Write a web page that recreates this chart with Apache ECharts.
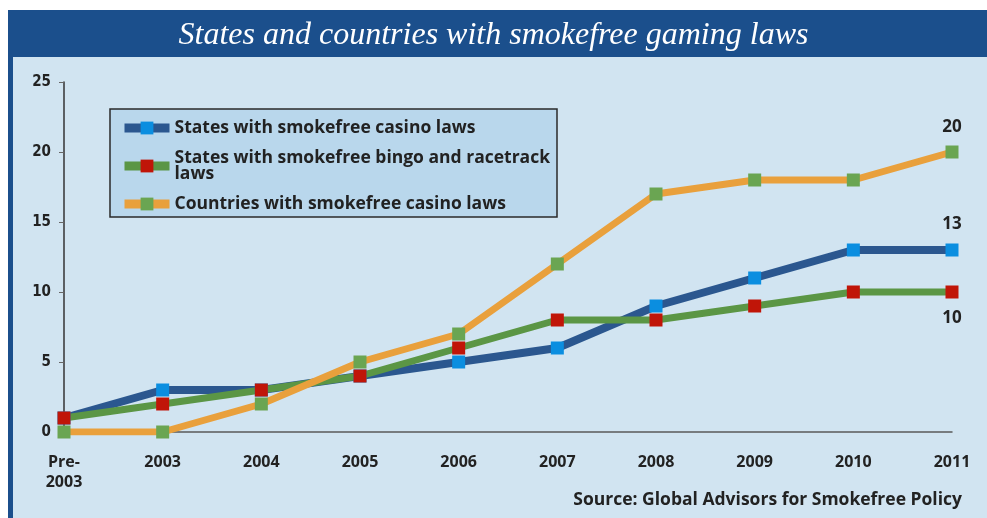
<!DOCTYPE html>
<html>
<head>
    <meta charset="UTF-8">
    <title>States and countries with smokefree gaming laws</title>
    <script type="text/javascript" src="https://cdn.jsdelivr.net/npm/echarts@6/dist/echarts.min.js"></script>
    <style type="text/css">
        html, body { margin: 0; padding: 0; background: #ffffff; }
        #chart { width: 987px; height: 518px; }
    </style>
</head>
<body>
<div id="chart"></div>
<script type="text/javascript">
    // 数据
    var years = ['Pre-\n2003', '2003', '2004', '2005', '2006', '2007', '2008', '2009', '2010', '2011'];
    var casinoStates = [1, 3, 3, 4, 5, 6, 9, 11, 13, 13];
    var bingoStates = [1, 2, 3, 4, 6, 8, 8, 9, 10, 10];
    var casinoCountries = [0, 0, 2, 5, 7, 12, 17, 18, 18, 20];
    var seriesNames = [
        'States with smokefree casino laws',
        'States with smokefree bingo and racetrack\nlaws',
        'Countries with smokefree casino laws'
    ];
    var yTicks = [0, 5, 10, 15, 20, 25];

    var boldFont = '"Open Sans", Lato, "DejaVu Sans", sans-serif';

    // 最后一个点加数值标签
    function withLastLabel(values, position, offset) {
        return values.map(function(v, i) {
            if (i !== values.length - 1) return v;
            return {
                value: v,
                label: {
                    show: true, position: position, distance: offset,
                    fontFamily: boldFont, fontWeight: 'bold', fontSize: 17, color: '#222'
                }
            };
        });
    }

    function lineSeries(name, data, lineColor, markerColor, width) {
        return {
            name: name,
            type: 'line',
            data: data,
            symbol: 'rect',
            symbolSize: 13,
            lineStyle: {color: lineColor, width: width},
            itemStyle: {color: markerColor},
            emphasis: {disabled: true}
        };
    }

    var chart = echarts.init(document.getElementById('chart'), null, {renderer: 'canvas'});
    chart.setOption({
        animation: false,
        backgroundColor: '#ffffff',
        graphic: [
            {type: 'rect', z: -10, shape: {x: 10, y: 55, width: 977, height: 463}, style: {fill: '#d1e4f1'}},
            {type: 'rect', z: -9, shape: {x: 8, y: 55, width: 5, height: 463}, style: {fill: '#1b4f8c'}},
            {type: 'rect', z: -9, shape: {x: 8, y: 10, width: 979, height: 47}, style: {fill: '#1b4f8c'}},
            {type: 'rect', z: -8, shape: {x: 110, y: 109, width: 447, height: 108},
                style: {fill: '#b9d7ec', stroke: '#2a2a2a', lineWidth: 1.5}},
            {type: 'text', right: 25, top: 491, z: 10,
                style: {text: 'Source: Global Advisors for Smokefree Policy', fill: '#222',
                    font: 'bold 17.5px ' + boldFont, textAlign: 'right'}}
        ],
        title: {
            text: 'States and countries with smokefree gaming laws',
            left: 'center',
            top: 15,
            textStyle: {color: '#ffffff', fontFamily: '"Liberation Serif", "DejaVu Serif", serif',
                fontStyle: 'italic', fontWeight: 'normal', fontSize: 32}
        },
        legend: {
            orient: 'vertical',
            left: 120,
            top: 119,
            itemWidth: 45,
            itemHeight: 16,
            itemGap: 12,
            padding: 0,
            selectedMode: false,
            lineStyle: {width: 9},
            textStyle: {fontFamily: boldFont, fontWeight: 'bold', fontSize: 17.5, color: '#222', lineHeight: 16}
        },
        grid: {left: 64, right: 35, top: 82, bottom: 86},
        xAxis: {
            type: 'category',
            data: years,
            boundaryGap: false,
            axisLine: {lineStyle: {color: '#5a5a5a', width: 1.5}},
            axisTick: {show: false},
            axisLabel: {margin: 20, fontFamily: boldFont, fontWeight: 'bold', fontSize: 16,
                color: '#222', lineHeight: 20, interval: 0, verticalAlign: 'top'}
        },
        yAxis: {
            type: 'value',
            min: yTicks[0],
            max: yTicks[yTicks.length - 1],
            interval: 5,
            splitLine: {show: false},
            axisLine: {show: true, lineStyle: {color: '#333', width: 1.5}},
            axisTick: {show: true, length: 5, lineStyle: {color: '#666'}},
            axisLabel: {margin: 13, fontFamily: '"Liberation Sans Narrow", "DejaVu Sans Condensed", sans-serif',
                fontWeight: 'bold', fontSize: 15, color: '#222'}
        },
        series: [
            lineSeries(seriesNames[0], withLastLabel(casinoStates, 'top', 11), '#2b578f', '#0b8ee0', 8),
            lineSeries(seriesNames[1], withLastLabel(bingoStates, 'bottom', 11), '#5b9645', '#c01508', 7),
            lineSeries(seriesNames[2], withLastLabel(casinoCountries, 'top', 10), '#e9a03c', '#6aa552', 7)
        ]
    });
</script>
</body>
</html>
